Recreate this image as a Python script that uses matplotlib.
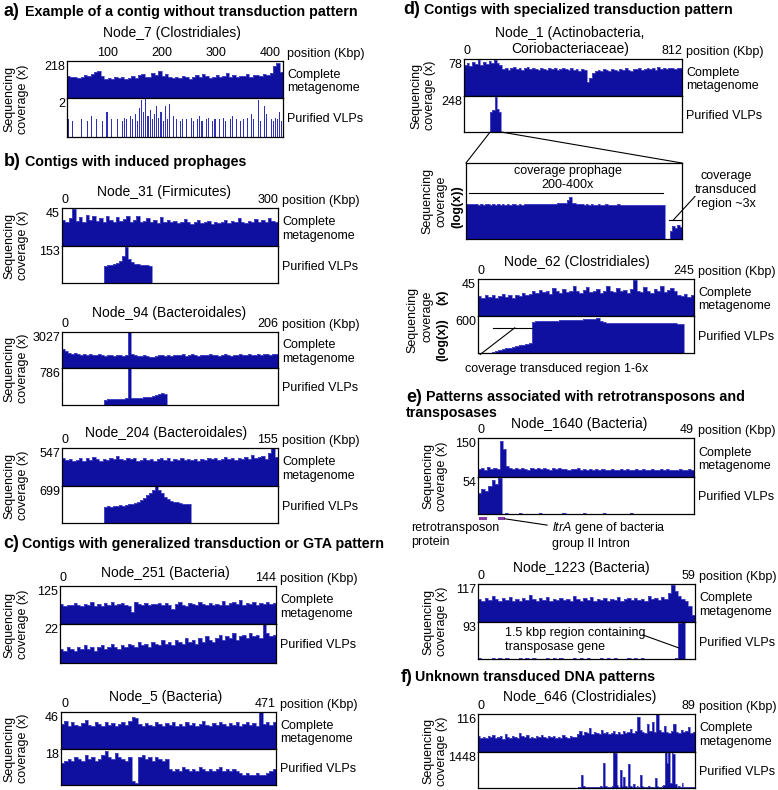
import matplotlib.pyplot as plt
import numpy as np
from matplotlib.patches import ConnectionPatch, Rectangle
import matplotlib.transforms as mtransforms

plt.rcParams["font.family"] = "sans-serif"
plt.rcParams["font.sans-serif"] = ["Liberation Sans", "DejaVu Sans"]
plt.rcParams["mathtext.fontset"] = "custom"
plt.rcParams["mathtext.it"] = "Liberation Sans:italic"
plt.rcParams["mathtext.rm"] = "Liberation Sans"

# ---- coverage profiles (x coverage per bin) ----
N7_META = [130, 121, 126, 118, 124, 133, 127, 141, 156, 162, 128, 112, 117, 110, 121, 115,
           124, 113, 120, 128, 118, 133, 140, 126, 121, 150, 136, 158, 131, 143, 126, 119,
           124, 117, 131, 121, 114, 126, 133, 122, 139, 127, 119, 126, 135, 121, 129, 146,
           125, 137, 123, 131, 128, 140, 126, 133, 138, 130, 142, 136, 150, 188, 204, 152]
N7_VLP = [0.9, 0, 0.8, 0, 0, 0, 0.9, 0, 0, 0.8, 0, 1.1, 0, 0.9, 0, 0, 0.8, 0, 1.3, 0,
          0.9, 0, 0, 0.9, 0, 0.8, 1.0, 0.9, 0, 1.1, 0.9, 1.2, 0.8, 1.5, 1.9, 1.3, 2.0, 1.1, 1.4, 0.9,
          1.2, 1.6, 1.0, 1.3, 0.8, 1.6, 0.9, 1.7, 0, 1.1, 0.9, 0, 0.8, 0.9, 0, 0.9, 0, 1.0, 0.8, 0,
          0.9, 1.1, 0.8, 0, 0.9, 1.0, 0, 0.8, 0.9, 0, 0.9, 0, 1.0, 0.8, 0, 0.9, 1.1, 0, 0.9, 0,
          0.8, 0.9, 0, 1.0, 0, 1.2, 0.9, 0, 1.9, 0.8, 0, 1.6, 1.2, 0, 0.9, 0.8, 1.0, 0.9, 1.3, 0.8]

N31_META = [31, 28, 33, 44, 30, 34, 29, 37, 31, 35, 30, 33, 29, 36, 31, 28,
            34, 30, 32, 35, 29, 31, 36, 28, 30, 33, 29, 31, 27, 34, 29, 31,
            28, 30, 27, 29, 32, 28, 26, 29, 31, 27, 28, 30, 26, 28, 27, 29,
            31, 27, 30, 28, 33, 29, 27, 30, 28, 32, 29, 31, 28, 33, 30, 29]
N31_VLP = [2, 1, 2, 1, 2, 2, 1, 2, 1, 2, 2, 1, 2, 1,
           70, 73, 76, 79, 84, 90, 112, 150, 100, 86, 80, 77, 75, 74, 73, 72,
           2, 1, 2, 2, 1, 2, 1, 2, 2, 1, 2, 1, 2, 2, 1, 2, 1, 2, 2, 1,
           2, 1, 2, 2, 1, 2, 1, 2, 2, 1, 2, 1, 2, 2, 1, 2, 1, 2, 2, 1, 2, 1]

N94_META = [1600, 1400, 1250, 1180, 1300, 1150, 1100, 1200, 1080, 1150, 1060, 1120, 1180, 1090, 1050, 1130,
            1070, 1010, 1090, 1110, 1040, 1080, 3027, 1160, 1090, 1040, 1010, 1060, 990, 900, 930, 1000,
            1060, 1090, 1020, 1110, 1050, 1130, 1060, 1080, 1140, 1050, 1100, 1160, 1080, 1040, 1120, 1090,
            1060, 1150, 1070, 1120, 1040, 1100, 1160, 1080, 1050, 1120, 1090, 1150, 1070, 1100, 1170, 1120,
            1080, 1160, 1100, 1140, 1190, 1120, 1170, 1150]
N94_VLP = [4, 3, 4, 3, 4, 4, 3, 4, 3, 4, 4, 3, 4, 3,
           115, 122, 128, 126, 132, 136, 138, 142, 786, 148, 146, 152, 158, 163, 170, 178, 188,
           205, 235, 248, 225,
           4, 3, 4, 4, 3, 4, 3, 4, 4, 3, 4, 3, 4, 4, 3, 4, 3, 4, 4, 3,
           4, 3, 4, 4, 3, 4, 3, 4, 4, 3, 4, 3, 4, 4, 3, 4, 3]

N204_META = [405, 372, 390, 360, 381, 398, 366, 402, 379, 415, 388, 362, 395, 378, 410, 384,
             430, 392, 371, 405, 386, 398, 367, 380, 402, 375, 392, 365, 384, 410, 379, 396,
             360, 387, 372, 401, 368, 390, 376, 395, 364, 382, 371, 398, 386, 404, 377, 392,
             415, 388, 402, 376, 410, 394, 420, 385, 440, 398, 412, 430, 395, 470, 547, 420]
N204_VLP = [3, 2, 3, 3, 2, 3, 2, 3, 3, 2, 3, 2, 3, 3,
            300, 312, 306, 318, 322, 333, 328, 342, 352, 365, 380, 400, 430, 470, 520, 570,
            620, 690, 630, 560, 500, 455, 425, 405, 392, 380, 368, 358, 350,
            3, 2, 3, 3, 2, 3, 2, 3, 3, 2, 3, 2, 3, 3, 2, 3, 2, 3, 3, 2,
            3, 2, 3, 3, 2, 3, 2, 3, 3]

N251_META = [66, 58, 64, 61, 70, 63, 59, 67, 62, 72, 60, 65, 58, 68, 63, 74,
             61, 66, 70, 64, 60, 38, 72, 66, 63, 69, 61, 67, 65, 70, 62, 68,
             64, 48, 66, 71, 63, 60, 68, 65, 62, 72, 66, 63, 70, 61, 67, 64,
             75, 62, 68, 71, 65, 78, 63, 69, 66, 72, 64, 70, 67, 73, 65, 68]
N251_VLP = [8, 7, 9, 8, 7, 9, 8, 10, 8, 9, 7, 9, 10, 8, 9, 11,
            9, 8, 10, 9, 11, 10, 9, 12, 10, 11, 9, 12, 11, 10, 13, 11,
            12, 10, 13, 12, 11, 14, 12, 13, 11, 14, 12, 15, 13, 12, 14, 16,
            13, 15, 14, 17, 13, 15, 16, 14, 17, 15, 16, 14, 22, 17, 15, 16]

N5_META = [31, 35, 29, 33, 30, 28, 32, 36, 30, 29, 33, 31, 28, 34, 30, 32,
           29, 31, 33, 30, 35, 40, 38, 31, 29, 32, 30, 28, 33, 31, 29, 32,
           30, 34, 28, 31, 29, 33, 30, 32, 28, 31, 35, 30, 29, 32, 30, 33,
           31, 28, 32, 30, 34, 29, 31, 33, 30, 32, 29, 46, 31, 33, 30, 34]
N5_VLP = [11, 12, 13, 12, 14, 13, 12, 15, 13, 14, 12, 13, 15, 17, 14, 13,
          16, 14, 13, 12, 14, 2, 1, 14, 15, 13, 14, 12, 14, 13, 12, 13,
          8, 7, 8, 7, 9, 8, 7, 8, 7, 9, 8, 7, 8, 7, 8, 9,
          7, 8, 7, 8, 7, 6, 5, 6, 5, 5, 6, 5, 5, 6, 7, 8]

N1_META = [66, 70, 64, 72, 68, 75, 66, 71, 67, 73, 69, 76, 70, 65, 57, 60,
           55, 58, 62, 56, 59, 54, 58, 61, 56, 59, 57, 55, 60, 57, 54, 58,
           56, 59, 55, 57, 60, 56, 54, 58, 55, 57, 53, 56, 54, 30, 38, 48,
           52, 55, 53, 56, 54, 52, 57, 55, 53, 56, 54, 58, 55, 53, 57, 56,
           59, 55, 57, 60, 56, 58, 55, 61, 57, 59, 56, 58, 60, 57, 59, 58]
N1_VLP = [2, 1, 2, 2, 1, 2, 1, 2, 2, 1, 2, 1,
          135, 150, 240, 160, 138,
          2, 1, 2, 2, 1, 2, 1, 2, 2, 1, 2, 1, 2, 2, 1, 2, 1, 2, 2, 1,
          2, 1, 2, 2, 1, 2, 1, 2, 2, 1, 2, 1, 2, 2, 1, 2, 1, 2, 2, 1,
          2, 1, 2, 2, 1, 2, 1, 2, 2, 1, 2, 1, 2, 2, 1, 2, 1, 2, 2, 1,
          2, 1, 2, 2, 1, 2, 1, 2, 2, 1, 2, 1, 2, 2, 1, 2, 1, 2, 2, 1,
          2, 1, 2]
# zoom on the Node_1 prophage region (log scale)
N1_ZOOM = [360, 330, 320, 310, 325, 300, 315, 305, 320, 310, 298, 315, 305, 320, 300, 312,
           305, 318, 300, 310, 322, 305, 315, 300, 318, 326, 310, 320, 335, 315, 330, 325,
           340, 330, 345, 350, 340, 360, 375, 380, 400, 420, 700, 1100, 420, 380, 340, 320,
           310, 305, 315, 300, 310, 305, 298, 312, 300, 295, 310, 300, 305, 292, 300, 310,
           295, 300, 305, 290, 300, 296, 305, 292, 300, 298, 290, 302, 295, 300, 290, 298,
           292, 300, 295, 1, 1, 4, 9, 6, 11, 7]

N62_META = [24, 22, 25, 23, 26, 22, 24, 27, 23, 25, 22, 26, 24, 28, 25, 27,
            30, 28, 32, 29, 31, 27, 34, 30, 28, 33, 29, 31, 36, 30, 28, 32,
            35, 29, 31, 33, 28, 30, 37, 31, 29, 34, 30, 32, 28, 33, 44, 30,
            29, 35, 31, 28, 33, 30, 36, 29, 32, 34, 30, 26, 24, 27, 23, 25]
N62_VLP = [1, 1, 1, 1.05, 1.2, 1.4, 1.6, 1.9, 2.2, 2.5, 2.9, 3.3, 3.8, 4.3, 5, 5.6,
           230, 238, 242, 248, 252, 258, 262, 270, 276, 282, 290, 298, 306, 316, 326, 338,
           350, 365, 385, 410, 250, 205, 195, 190, 186, 183, 180, 178, 176, 175, 173, 172,
           171, 170, 170, 169, 168, 168, 167, 166, 166, 165, 165, 164, 164, 1, 1, 1]

N1640_META = [30, 34, 28, 38, 31, 35, 29, 137, 108, 42, 33, 30, 36, 29, 34, 31,
              28, 35, 30, 33, 29, 36, 31, 28, 33, 30, 34, 29, 31, 27, 32, 29,
              33, 28, 30, 27, 31, 28, 29, 26, 30, 28, 27, 29, 26, 28, 30, 27,
              29, 28, 26, 29, 27, 30, 28, 26, 29, 27, 28, 30, 27, 29, 26, 28,
              27, 29, 28, 27, 29, 28]
N1640_VLP = [30, 36, 34, 41, 50, 44, 52,
             0.4, 0.8, 0.3, 0.5, 0.3, 1.2, 0.4, 0.3, 0.6, 0.3, 0.4, 0.9, 0.3, 0.4, 0.3, 0.5,
             0.3, 0.4, 1.0, 0.3, 0.4, 0.3, 0.5, 0.3, 0.8, 0.3, 0.4, 0.3, 0.4, 0.3, 0.9, 0.3,
             0.4, 0.3, 0.5, 0.3, 0.4, 0.3, 0.8, 0.3, 0.4, 0.3, 0.4, 0.3, 0.5, 0.3, 0.4, 0.3,
             0.3, 0.4, 0.3, 0.3, 0.4, 0.3, 0.3, 0.4, 0.3]
GENES_1640 = [(0.2, 2.0), (4.5, 6.1)]

N1223_META = [72, 66, 75, 68, 80, 70, 64, 73, 69, 78, 66, 71, 65, 74, 68, 82,
              70, 66, 73, 69, 77, 64, 71, 68, 75, 67, 72, 66, 79, 70, 65, 73,
              68, 76, 66, 71, 69, 74, 65, 72, 68, 78, 66, 70, 73, 67, 75, 69,
              72, 66, 80, 70, 74, 68, 77, 72, 88, 113, 95, 80, 72, 66, 50, 22]
N1223_VLP = [1.5, 0.5, 1.2, 0.4, 1.5, 0.6, 1.3, 0.5, 1.5, 0.4, 1.2, 0.6, 1.5, 0.5, 1.3, 0.4,
             1.5, 0.6, 1.2, 0.5, 1.5, 0.4, 1.3, 0.6, 1.5, 0.5, 1.2, 0.4, 1.5, 0.6, 1.3, 0.5,
             1.5, 0.4, 1.2, 0.6, 1.5, 0.5, 1.3, 0.4, 1.5, 0.6, 1.2, 0.5, 1.5, 0.4, 1.3, 0.6,
             1.5, 0.5, 0.4, 0.3, 0.4, 0.3, 0.4, 0.3, 0.4, 0.3, 2, 90, 93, 1, 0.5, 0.5]

N646_META = [50, 44, 47, 42, 49, 45, 52, 43, 46, 48, 41, 55, 47, 44, 50, 46, 43, 58, 48, 45,
             51, 44, 47, 42, 49, 45, 53, 46, 43, 48, 45, 50, 42, 47, 44, 52, 46, 43, 49, 45,
             47, 56, 64, 53, 60, 57, 72, 55, 62, 58, 54, 66, 57, 61, 55, 59, 63, 56, 60, 54,
             65, 58, 62, 70, 59, 64, 106, 66, 60, 57, 84, 63, 93, 61, 116, 67, 62, 78, 60, 58,
             64, 86, 62, 59, 66, 60, 63, 75, 58, 62]
N646_VLP = [0, 0, 0, 0, 0, 0, 0, 0, 0, 0, 0, 0, 0, 0, 0, 0, 0, 0, 0, 0,
            0, 0, 0, 0, 0, 0, 0, 0, 0, 0, 0, 0, 0, 0, 0, 0, 0, 0, 0, 0,
            0, 0, 0, 0, 0, 0, 0, 0, 0, 0, 0, 0, 0, 0, 0, 0, 0, 0, 0, 0,
            40, 60, 520, 70, 45, 50, 40, 55, 45, 60, 40, 50, 45, 70, 60, 990, 80, 50, 45, 60,
            90, 1448, 1420, 120, 60, 720, 80, 460, 70, 60, 980, 90, 60, 170, 50, 70, 60, 520, 80, 55,
            60, 45, 70, 50, 60, 45, 390, 70, 55, 60, 80, 120, 1448, 1000, 1448, 200, 1448, 1350, 150, 60,
            70, 50, 200, 60, 45, 55, 40, 50, 45, 40]

W, H = 778, 790
NAVY = "#1010a0"
EDGE = "#5a5ad0"
PURPLE = "#8a3aa8"

fig = plt.figure(figsize=(W / 100, H / 100), dpi=100)


def px_axes(x0, y0, x1, y1):
    """axes placed by pixel box (y from top)"""
    ax = fig.add_axes([x0 / W, 1 - y1 / H, (x1 - x0) / W, (y1 - y0) / H])
    for sp in ax.spines.values():
        sp.set_linewidth(0.9)
    return ax


def ftext(x, y, s, **kw):
    kw.setdefault("fontsize", 9)
    return fig.text(x / W, 1 - y / H, s, **kw)


def fline(xs, ys, **kw):
    fig.add_artist(plt.Line2D([x / W for x in xs], [1 - y / H for y in ys],
                              transform=fig.transFigure, color="black", lw=0.8, **kw))


def coverage(ax, vals, lim, ymax, log=False, bars=False):
    vals = np.asarray(vals, dtype=float)
    edges = np.linspace(lim[0], lim[1], len(vals) + 1)
    base = 0
    if log:
        ax.set_yscale("log")
        base = 1
    if bars:
        step = edges[1] - edges[0]
        ax.bar(edges[:-1] + step / 2, vals, width=step * 0.5, color="#3030b4", linewidth=0)
    else:
        ax.stairs(vals, edges, baseline=base, fill=True, color=NAVY, linewidth=0)
        ax.stairs(vals, edges, baseline=None, color=EDGE, linewidth=0.5)
    ax.set_xlim(*lim)
    ax.set_ylim(base, ymax)
    ax.tick_params(which="both", left=False, bottom=False, labelleft=False, labelbottom=False)
    return edges


def panel(title, title_xy, box, lim, top, tmax, bot, bmax, ticks, ylab_x=None,
          bot_log=False, bot_bars=False, centered_ticks=False):
    x0, x1, yt, yd, yb = box
    ax_t = px_axes(x0, yt, x1, yd)
    ax_b = px_axes(x0, yd, x1, yb)
    coverage(ax_t, top, lim, tmax)
    coverage(ax_b, bot, lim, bmax, log=bot_log, bars=bot_bars)
    ftext(title_xy[0], title_xy[1], title, fontsize=10, ha="center", va="center")
    ax_t.xaxis.tick_top()
    ax_t.set_xticks(ticks, [str(t) for t in ticks])
    ax_t.tick_params(axis="x", length=0, pad=1.5, labelsize=9, labeltop=True)
    if not centered_ticks:
        labs = ax_t.get_xticklabels()
        labs[0].set_horizontalalignment("left")
        labs[-1].set_horizontalalignment("right")
    ftext(x1 + 4, yt - 4, "position (Kbp)", va="baseline")
    ftext(x0 - 2, yt, str(tmax), ha="right", va="top")
    ftext(x0 - 2, yd, str(bmax), ha="right", va="top")
    ftext(x1 + 4, (yt + yd) / 2 + 2, "Complete\nmetagenome", va="center")
    ftext(x1 + 4, (yd + yb) / 2 + 2, "Purified VLPs", va="center")
    if ylab_x is not None:
        ftext(ylab_x, (yt + yb) / 2, "Sequencing\ncoverage (x)", rotation=90,
              ha="center", va="center", multialignment="center")
    return ax_t, ax_b


def section(x_tag, x_txt, y, tag, text):
    ftext(x_tag, y, tag, fontsize=13, fontweight="bold", va="center")
    ftext(x_txt, y, text, fontsize=10.3, fontweight="bold", va="center")


# ---------------- left column ----------------
section(3, 25, 12, "a)", "Example of a contig without transduction pattern")
panel("Node_7 (Clostridiales)", (172, 33), (67, 283, 61, 98, 137), (24, 424),
      N7_META, 218, N7_VLP, 2, [100, 200, 300, 400], ylab_x=16, bot_bars=True,
      centered_ticks=True)

section(4, 25, 162, "b)", "Contigs with induced prophages")
panel("Node_31 (Firmicutes)", (164, 192), (62, 278, 208, 246, 283), (0, 300),
      N31_META, 45, N31_VLP, 153, [0, 300], ylab_x=16)
panel("Node_94 (Bacteroidales)", (169, 313), (62, 278, 332, 368, 405), (0, 206),
      N94_META, 3027, N94_VLP, 786, [0, 206], ylab_x=16)
panel("Node_204 (Bacteroidales)", (166, 433), (62, 278, 448, 486, 523), (0, 155),
      N204_META, 547, N204_VLP, 699, [0, 155], ylab_x=16)

section(3, 22, 544, "c)", "Contigs with generalized transduction or GTA pattern")
panel("Node_251 (Bacteria)", (165, 573), (60, 276, 586, 624, 663), (0, 144),
      N251_META, 125, N251_VLP, 22, [0, 144], ylab_x=16)
panel("Node_5 (Bacteria)", (166, 697), (61, 276, 712, 749, 785), (0, 471),
      N5_META, 46, N5_VLP, 18, [0, 471], ylab_x=16)

# ---------------- right column ----------------
section(403, 424, 10, "d)", "Contigs with specialized transduction pattern")
n1_t, n1_b = panel("Node_1 (Actinobacteria,\nCoriobacteriaceae)", (570, 41), (464, 682, 59, 96, 132),
                   (0, 812), N1_META, 78, N1_VLP, 248, [0, 812], ylab_x=423)

# zoomed prophage of Node_1
zax = px_axes(466, 163, 682, 239)
coverage(zax, N1_ZOOM, (0, 1), 3e5, log=True)
vlp1 = np.asarray(N1_VLP)
hot = np.nonzero(vlp1 > 50)[0]
e1 = np.linspace(0, 812, len(vlp1) + 1)
for xa, xb in ((e1[hot[0]], 0), (e1[hot[-1] + 1], 1)):
    con = ConnectionPatch(xyA=(xa, 0), coordsA=n1_b.transData, xyB=(xb, 1),
                          coordsB=zax.transAxes, color="black", lw=0.8)
    fig.add_artist(con)
zax.plot([0.015, 0.91], [0.61, 0.61], color="black", lw=0.8, transform=zax.transAxes)
zax.text(0.47, 0.80, "coverage prophage\n200-400x", transform=zax.transAxes,
         ha="center", va="center", fontsize=9)
zax.plot([0.94, 1.0], [0.25, 0.25], color="black", lw=0.8, transform=zax.transAxes, clip_on=False)
zax.plot([0.96, 1.06], [0.25, 0.56], color="black", lw=0.8, transform=zax.transAxes, clip_on=False)
ftext(726, 190, "coverage\ntransduced\nregion ~3x", ha="center", va="center",
      multialignment="center")
ftext(427, 201, "Sequencing", rotation=90, ha="center", va="center")
ftext(442, 201, "coverage", rotation=90, ha="center", va="center")
ftext(457, 207, "(log(x))", rotation=90, ha="center", va="center", fontweight="bold")

# Node_62
n62_t, n62_b = panel("Node_62 (Clostridiales)", (577, 262), (478, 694, 279, 316, 353), (0, 245),
                     N62_META, 45, N62_VLP, 600, [0, 245], bot_log=True)
ftext(412, 320, "Sequencing", rotation=90, ha="center", va="center")
ftext(427, 316, "coverage", rotation=90, ha="center", va="center")
ftext(442, 297, "(x)", rotation=90, ha="center", va="center", fontweight="bold")
ftext(442, 340, "(log(x))", rotation=90, ha="center", va="center", fontweight="bold")
n62_b.plot([0.07, 0.25], [0.68, 0.68], color="black", lw=0.8, transform=n62_b.transAxes)
n62_b.plot([0.17, 0.01], [0.68, -0.04], color="black", lw=0.8, transform=n62_b.transAxes,
           clip_on=False)
ftext(557, 369, "coverage transduced region 1-6x", ha="center", va="center")

section(406, 426, 397, "e)", "Patterns associated with retrotransposons and")
ftext(406, 413, "transposases", fontsize=10.3, fontweight="bold", va="center")
n1640_t, n1640_b = panel("Node_1640 (Bacteria)", (579, 424), (478, 694, 438, 477, 514), (0, 49),
                         N1640_META, 150, N1640_VLP, 54, [0, 49], ylab_x=435)
gtrans = mtransforms.blended_transform_factory(n1640_b.transData, n1640_b.transAxes)
for s, e in GENES_1640:
    n1640_b.add_patch(Rectangle((s, -0.17), e - s, 0.09, transform=gtrans, color=PURPLE,
                                clip_on=False, linewidth=0))
n1640_b.plot([0.125, 0.32], [-0.13, -0.30], color="black", lw=0.8, transform=n1640_b.transAxes,
             clip_on=False)
ftext(411, 535, "retrotransposon\nprotein", va="center")
ftext(552, 535, "$\\it{ltrA}$ gene of bacteria\ngroup II Intron", va="center")

n1223_t, n1223_b = panel("Node_1223 (Bacteria)", (581, 568), (478, 695, 584, 622, 659), (0, 59),
                         N1223_META, 117, N1223_VLP, 93, [0, 59], ylab_x=435)
ftext(505, 640, "1.5 kbp region containing\ntransposase gene", va="center")
fline([643, 679], [635, 648])

section(401, 415, 677, "f)", "Unknown transduced DNA patterns")
panel("Node_646 (Clostridiales)", (580, 697), (478, 695, 714, 752, 788), (0, 89),
      N646_META, 116, N646_VLP, 1448, [0, 89], ylab_x=435)

fig.savefig("out.png", dpi=100)
